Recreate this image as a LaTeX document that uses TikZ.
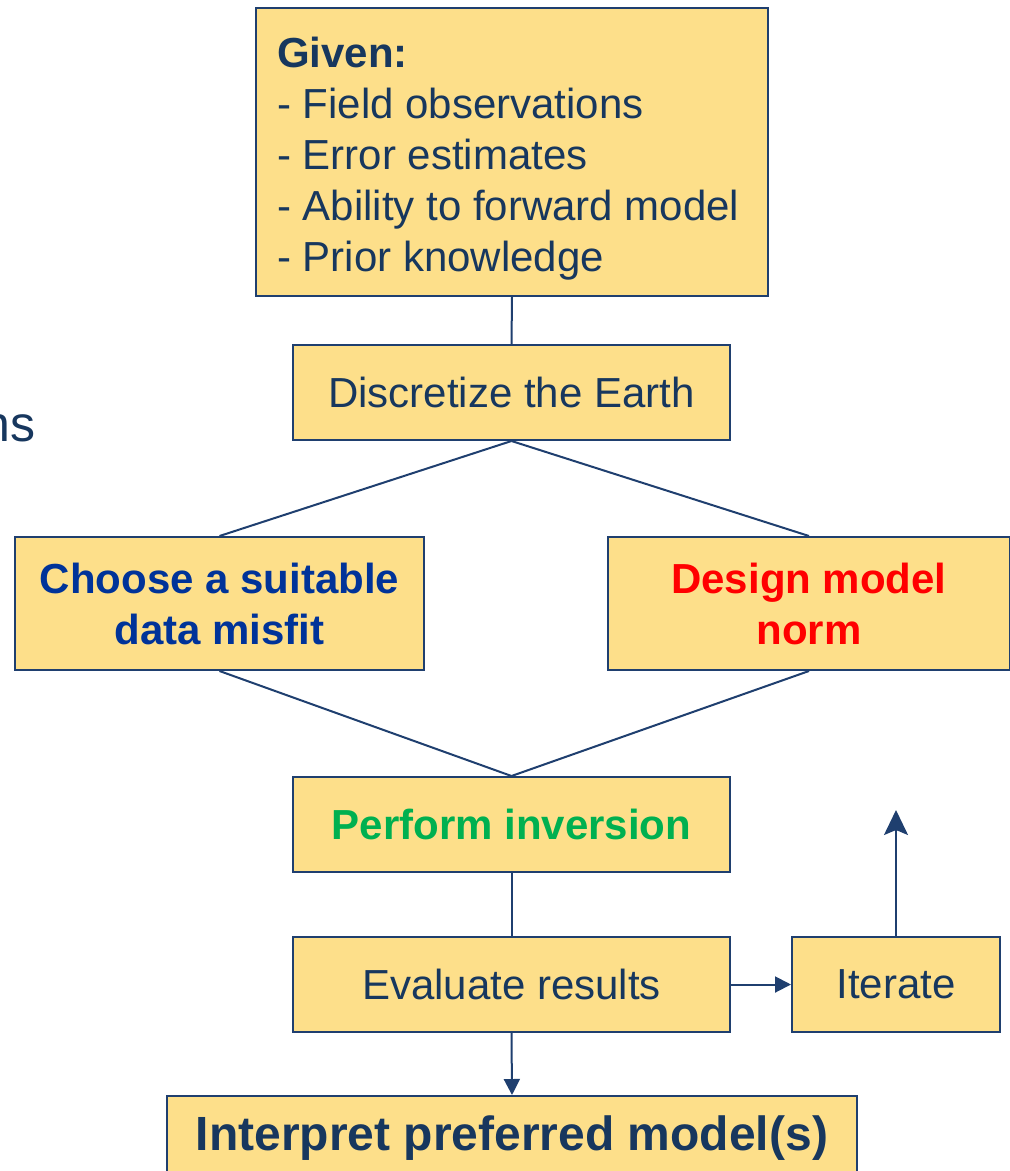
\documentclass[tikz,border=0pt]{standalone}
\usepackage{fontspec}
\setmainfont{Liberation Sans}
\usetikzlibrary{arrows.meta}

\definecolor{boxfill}{HTML}{FDDF8A}
\definecolor{boxline}{HTML}{1F3F6F}
\definecolor{navy}{HTML}{17375E}
\definecolor{misfitblue}{HTML}{003399}
\definecolor{normred}{HTML}{FF0000}
\definecolor{invgreen}{HTML}{00B050}

\tikzset{
    stepbox/.style={draw=boxline, line width=2pt, fill=boxfill, text=navy,
        inner sep=0pt, align=center, font=\fontsize{42}{51}\selectfont},
    link/.style={draw=boxline, line width=2pt},
    arrowlink/.style={link, -{Triangle[length=16pt,width=16pt]}}
}

\begin{document}
\begin{tikzpicture}[x=1pt, y=-1pt]
    \useasboundingbox (0,0) rectangle (1010,1171);
    % cut-off slide text on the left
    \node (cut) [anchor=base east, inner sep=0pt, text=navy, font=\fontsize{50}{60}\selectfont] at (36,441) {ns};

    \node (given) [stepbox, minimum width=512pt, minimum height=288pt] at (512,152) {};
    \node (giventext) [anchor=north west, inner sep=0pt, align=left, text=navy,
        font=\fontsize{42}{51}\selectfont] at (277,37)
        {\textbf{Given:}\\- Field observations\\- Error estimates\\- Ability to forward model\\- Prior knowledge};

    \node (discretize) [stepbox, minimum width=437pt, minimum height=95pt] at (511.5,392.5) {Discretize the Earth};
    \node (misfit) [stepbox, minimum width=409pt, minimum height=133pt, text=misfitblue, font=\fontsize{42}{51}\selectfont\bfseries] at (219.5,603.5) {Choose a suitable\\data misfit};
    \node (norm) [stepbox, minimum width=402pt, minimum height=133pt, text=normred, font=\fontsize{42}{51}\selectfont\bfseries] at (809,603.5) {Design model\\norm};
    \node (inversion) [stepbox, minimum width=437pt, minimum height=95pt, text=invgreen, font=\fontsize{42}{51}\selectfont\bfseries] at (511.5,824.5) {Perform inversion};
    \node (evaluate) [stepbox, minimum width=437pt, minimum height=95pt] at (511.5,984.5) {Evaluate results};
    \node (iterate) [stepbox, minimum width=208pt, minimum height=95pt] at (896,984.5) {Iterate};
    \node (interpret) [stepbox, minimum width=690pt, minimum height=100pt, anchor=north] at (512,1095) {};
    \node (interprettext) [inner sep=0pt, text=navy, font=\fontsize{48}{51}\selectfont\bfseries] at (512,1138)
        {Interpret preferred model(s)};
    \coordinate (loopend) at (896,810);

    \draw[link] (given.south) -- (discretize.north);
    \draw[link] (discretize.south) -- (misfit.north);
    \draw[link] (discretize.south) -- (norm.north);
    \draw[link] (misfit.south) -- (inversion.north);
    \draw[link] (norm.south) -- (inversion.north);
    \draw[link] (inversion.south) -- (evaluate.north);
    \draw[arrowlink] (evaluate.east) -- (iterate.west);
    \draw[link, -{Stealth[length=25pt,width=24pt,inset=5pt]}] (iterate.north) -- (loopend);
    \draw[arrowlink] (evaluate.south) -- (interpret.north);
\end{tikzpicture}
\end{document}
